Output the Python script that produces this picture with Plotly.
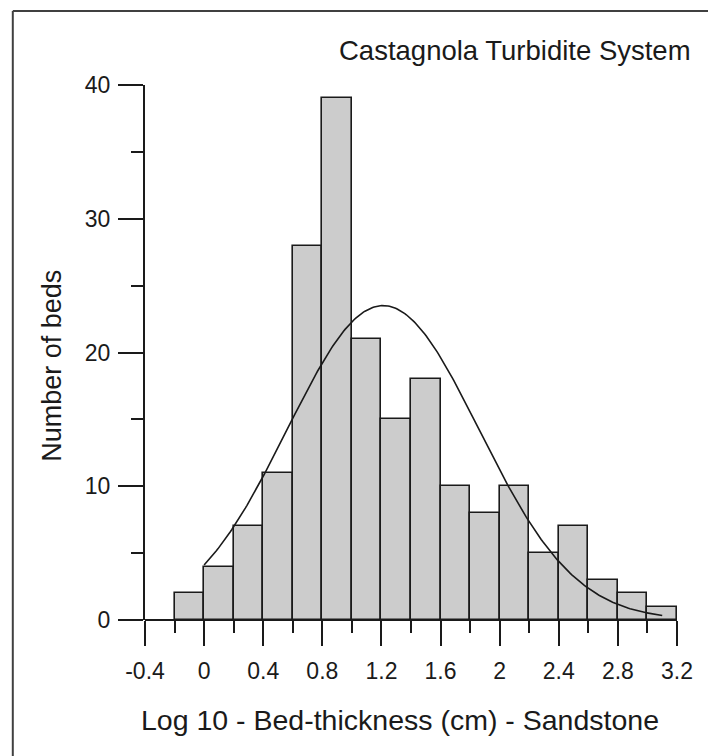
import numpy as np
import plotly.graph_objects as go

# Histogram of log10 sandstone bed thickness (bin width 0.2)
bin_left = [-0.2, 0.0, 0.2, 0.4, 0.6, 0.8, 1.0, 1.2, 1.4, 1.6, 1.8, 2.0, 2.2, 2.4, 2.6, 2.8, 3.0]
counts = [2, 4, 7, 11, 28, 39, 21, 15, 18, 10, 8, 10, 5, 7, 3, 2, 1]
bin_width = 0.2

x_ticks = [-0.4, 0, 0.4, 0.8, 1.2, 1.6, 2, 2.4, 2.8, 3.2]
x_tick_text = ["-0.4", "0", "0.4", "0.8", "1.2", "1.6", "2", "2.4", "2.8", "3.2"]
y_ticks = [0, 10, 20, 30, 40]

centers = np.array(bin_left) + bin_width / 2
n = np.array(counts)

# Normal curve fitted to the binned data, scaled to counts
total = n.sum()
mean = (centers * n).sum() / total
sd = np.sqrt(((centers - mean) ** 2 * n).sum() / total)
xc = np.linspace(0.0, 3.1, 300)
yc = total * bin_width / (sd * np.sqrt(2 * np.pi)) * np.exp(-0.5 * ((xc - mean) / sd) ** 2)

FONT = "Arial, 'Liberation Sans', Helvetica, sans-serif"
INK = "#1a1a1a"

fig = go.Figure()
fig.add_trace(go.Bar(
    x=centers, y=counts, width=bin_width,
    marker=dict(color="#cccccc", line=dict(color=INK, width=1.6)),
    showlegend=False, hoverinfo="x+y",
))
fig.add_trace(go.Scatter(
    x=xc, y=yc, mode="lines", line=dict(color=INK, width=1.6),
    showlegend=False, hoverinfo="skip",
))

tick_style = dict(
    showgrid=False, ticks="outside", ticklen=25, tickwidth=2, tickcolor=INK,
    tickfont=dict(family=FONT, size=23, color=INK),
)

# x baseline drawn as the y=0 zero line so it sits under the bar bottoms
fig.update_xaxes(
    range=[-0.4, 3.2], tickmode="array", tickvals=x_ticks, ticktext=x_tick_text,
    showline=False, zeroline=False,
    minor=dict(ticks="outside", ticklen=12, tickwidth=2, tickcolor=INK, dtick=0.2, tick0=-0.4),
    ticklabelstandoff=5,
    **tick_style,
)
fig.update_yaxes(
    range=[0, 40], tickmode="array", tickvals=y_ticks,
    showline=True, linecolor=INK, linewidth=2,
    zeroline=True, zerolinecolor=INK, zerolinewidth=2,
    minor=dict(ticks="outside", ticklen=12, tickwidth=2, tickcolor=INK, dtick=5, tick0=0),
    ticklabelstandoff=3,
    **tick_style,
)

fig.update_layout(
    width=708, height=756,
    margin=dict(l=145, r=31, t=85, b=136),
    plot_bgcolor="white", paper_bgcolor="white",
    bargap=0,
    font=dict(family=FONT, color=INK),
    annotations=[
        dict(text="Castagnola Turbidite System", xref="paper", yref="paper",
             x=1.030, y=1.0654, xanchor="right", yanchor="middle", showarrow=False,
             font=dict(family=FONT, size=27.5, color=INK)),
        dict(text="Log 10 - Bed-thickness (cm) - Sandstone", xref="paper", yref="paper",
             x=0.48, y=-0.187, xanchor="center", yanchor="middle", showarrow=False,
             font=dict(family=FONT, size=28.5, color=INK)),
        dict(text="Number of beds", xref="paper", yref="paper", textangle=-90,
             x=-0.175, y=0.475, xanchor="center", yanchor="middle", showarrow=False,
             font=dict(family=FONT, size=27, color=INK)),
    ],
    shapes=[
        dict(type="line", xref="paper", yref="paper", x0=-0.2485, x1=1.2, y0=1.1383, y1=1.1383,
             line=dict(color="#404040", width=2)),
        dict(type="line", xref="paper", yref="paper", x0=-0.2485, x1=-0.2485, y0=1.1383, y1=-0.4,
             line=dict(color="#404040", width=2)),
    ],
)

fig.write_html("out.html")
